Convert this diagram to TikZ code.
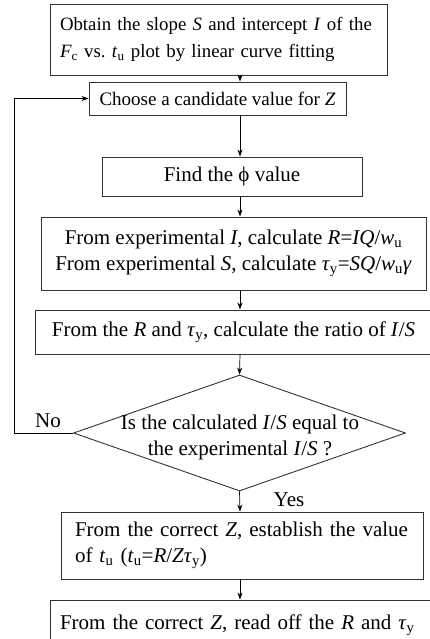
\documentclass[tikz,border=0pt]{standalone}
\usepackage{fontspec}
\setmainfont{Liberation Serif}
\usetikzlibrary{arrows.meta,shapes.geometric,shadows}
\newcommand\sbs[1]{\textsubscript{#1}}
\newcommand\vi[1]{\textit{#1}}
\frenchspacing
\begin{document}
\begin{tikzpicture}[x=1pt,y=-1pt,
  box/.style={draw=black!80, line width=0.9pt, fill=white, inner sep=0pt,
    drop shadow={shadow xshift=1.1pt, shadow yshift=-1.1pt, opacity=1, fill=black!40},
    font=\fontsize{21}{26}\selectfont},
  small/.style={font=\fontsize{19}{27}\selectfont},
  lbl/.style={inner sep=0pt, font=\fontsize{21}{26}\selectfont},
  arr/.style={-{Stealth[length=7pt,width=5pt]}, line width=0.7pt}]
\clip (0,0) rectangle (430,639);
\coordinate (ax) at (240,0);
\coordinate (fb) at (14,0);
\node[box, font=\fontsize{18.8}{27}\selectfont, minimum width=337, minimum height=71, text width=317, align=left] (b1) at (218.5,39.5)
  {Obtain the slope \vi{S} and intercept \vi{I} of the\\ \vi{F}\sbs{c} vs.\ \vi{t}\sbs{u} plot by linear curve fitting};
\node[box, small, minimum width=257, minimum height=33] (b2) at (217.5,98.5) {Choose a candidate value for \vi{Z}};
\node[box, minimum width=260, minimum height=39] (b3) at (232,176.5) {Find the ϕ value};
\node[box, minimum width=385, minimum height=73, align=center] (b4) at (233.5,253.5)
  {From experimental \vi{I}, calculate \vi{R}=\vi{IQ}/\vi{w}\sbs{u}\\ From experimental \vi{S}, calculate \vi{τ}\sbs{y}=\vi{SQ}/\vi{w}\sbs{u}\vi{γ}};
\node[box, minimum width=397, minimum height=44] (b5) at (233.5,332)
  {From the \vi{R} and \vi{τ}\sbs{y}, calculate the ratio of \vi{I}/\vi{S}};
\node[diamond, draw=black!80, line width=0.9pt, minimum width=332, minimum height=116, inner sep=0pt] (d) at (239.5,433) {};
\node[lbl, align=center] (dt) at (240,437) {Is the calculated \vi{I}/\vi{S} equal to\\ the experimental \vi{I}/\vi{S} ?};
\node[box, minimum width=362, minimum height=67, text width=334, align=left] (b6) at (242,545.5)
  {From the correct \vi{Z}, establish the value\\ of \vi{t}\sbs{u} (\vi{t}\sbs{u}=\vi{R}/\vi{Zτ}\sbs{y})};
\node[box, minimum width=390, minimum height=50, text width=370, align=left] (b7) at (245,625)
  {From the correct \vi{Z}, read off the \vi{R} and \vi{τ}\sbs{y}};
\node[lbl] (no) at (48,421) {No};
\node[lbl] (yes) at (289,500) {Yes};
\draw[arr] (b1.south -| ax) -- (b2.north -| ax);
\draw[arr] (b2.south -| ax) -- (b3.north -| ax);
\draw[arr] (b3.south -| ax) -- (b4.north -| ax);
\draw[arr] (b4.south -| ax) -- (b5.north -| ax);
\draw[arr] (b5.south -| ax) -- (d.north);
\draw[arr] (d.south) -- (b6.north -| ax);
\draw[arr] (b6.south -| ax) -- (b7.north -| ax);
\draw[arr] (d.west) -- (d.west -| fb) |- (b2.west);
\end{tikzpicture}
\end{document}
